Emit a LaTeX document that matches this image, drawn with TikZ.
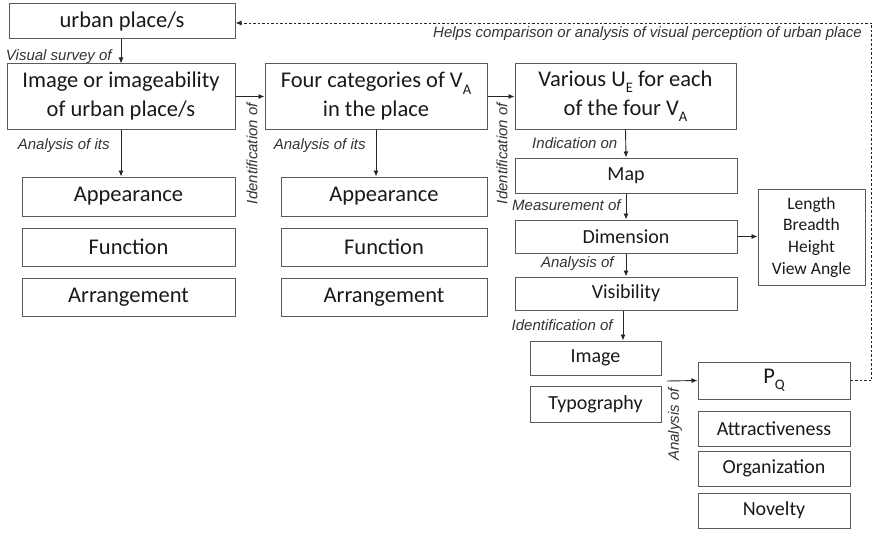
\documentclass[tikz,border=0pt]{standalone}
\usepackage{fontspec}
\setmainfont{Carlito}
\newfontfamily\lblfont{Liberation Sans}
\usetikzlibrary{arrows.meta,positioning}
\definecolor{boxline}{HTML}{5A5A5A}
\definecolor{arrowline}{HTML}{262626}
\definecolor{labeltext}{HTML}{333333}
\newcommand{\lowidx}[1]{\raisebox{-0.28em}{\fontsize{0.65em}{0.65em}\selectfont #1}}

\begin{document}
\begin{tikzpicture}[x=1pt, y=-1pt,
      box/.style={draw=boxline, line width=1pt, inner sep=0pt, align=center,
                  text=black!90, font=\fontsize{22.5}{29}\selectfont},
      sbox/.style={box, font=\fontsize{20}{24}\selectfont},
      lbl/.style={font=\lblfont\itshape\fontsize{15}{18}\selectfont,
                  text=labeltext, inner sep=0pt},
      edge/.style={-{Latex[length=6pt,width=5pt]}, line width=0.9pt, arrowline},
      fb/.style={edge, dash pattern=on 2.5pt off 2pt}
    ]
      \useasboundingbox (0,0) rectangle (874,532);

      % urban place
      \node[box, minimum width=226pt, minimum height=35pt] (up) at (122,21.5) {urban place/s};

      % top row
      \node[box, minimum width=228pt, minimum height=65pt] (img) at (121,96.5)
        {Image or imageability\\of urban place/s};
      \node[box, minimum width=222pt, minimum height=65pt] (cat) at (376,96.5)
        {Four categories of V\lowidx{A}\\in the place};
      \node[box, minimum width=221pt, minimum height=65pt] (var) at (625.5,96.5)
        {Various U\lowidx{E} for each\\of the four V\lowidx{A}};

      % first column
      \node[box, minimum width=213pt, minimum height=39pt] (app1) at (128.5,196.5) {Appearance};
      \node[box, minimum width=213pt, minimum height=38pt] (fun1) at (128.5,247) {Function};
      \node[box, minimum width=213pt, minimum height=38pt] (arr1) at (128.5,297) {Arrangement};

      % second column
      \node[box, minimum width=206pt, minimum height=39pt] (app2) at (384,196.5) {Appearance};
      \node[box, minimum width=206pt, minimum height=38pt] (fun2) at (384,247) {Function};
      \node[box, minimum width=206pt, minimum height=38pt] (arr2) at (384,297) {Arrangement};

      % third column
      \node[sbox, minimum width=222pt, minimum height=35pt] (map) at (626,175.5) {Map};
      \node[sbox, minimum width=222pt, minimum height=33pt] (dim) at (626,236.5) {Dimension};
      \node[sbox, minimum width=222pt, minimum height=33pt] (vis) at (626,293.5) {Visibility};
      \node[box, font=\fontsize{17.5}{21.7}\selectfont, minimum width=107pt,
            minimum height=96pt] (len) at (811.5,237) {Length\\Breadth\\Height\\View Angle};

      % image and typography
      \node[sbox, minimum width=131pt, minimum height=34pt] (image) at (595.5,358) {Image};
      \node[sbox, minimum width=131pt, minimum height=36pt] (typo) at (595.5,404) {Typography};

      % perceived quality
      \node[box, minimum width=152pt, minimum height=37pt] (pq) at (774,380.5) {P\lowidx{Q}};
      \node[sbox, minimum width=152pt, minimum height=35pt] (attr) at (774,428.5) {Attractiveness};
      \node[sbox, minimum width=152pt, minimum height=35pt] (org) at (774,468.5) {Organization};
      \node[sbox, minimum width=152pt, minimum height=35pt] (nov) at (774,510.5) {Novelty};

      % rotated labels
      \node[lbl, rotate=90, anchor=east] (id1) at (252,103) {Identification of};
      \node[lbl, rotate=90, anchor=east] (id2) at (502,103) {Identification of};
      \node[lbl, rotate=90, anchor=east] (an3) at (675,388) {Analysis of};
      \node[lbl, anchor=east] (helps) at (862,34) {Helps comparison or analysis of visual perception of urban place};
      \coordinate (pqin) at (667,381);

      % Edges
      \draw[edge] (up.south -| img.north) -- (img.north) node[pos=0.7, left=9pt, lbl] {Visual survey of};
      \draw[edge] (img.east) -- (cat.west);
      \draw[edge] (cat.east) -- (var.west);
      \draw[edge] (img.south) -- (img.south |- app1.north) node[pos=0.35, left=11pt, lbl] {Analysis of its};
      \draw[edge] (cat.south) -- (cat.south |- app2.north) node[pos=0.35, left=10pt, lbl] {Analysis of its};
      \draw[edge] (var.south) -- (map.north) node[midway, left=8pt, lbl] {Indication on};
      \draw[edge] (map.south) -- (dim.north) node[pos=0.45, left=5pt, lbl] {Measurement of};
      \draw[edge] (dim.south) -- (vis.north) node[pos=0.46, left=12pt, lbl] {Analysis of};
      \draw[edge] ([xshift=-3pt]vis.south) -- ([xshift=-3pt]vis.south |- image.north) node[midway, left=10pt, lbl] {Identification of};
      \draw[edge] (dim.east) -- (dim.east -| len.west);
      \draw[edge] (pqin) -- (pq.west);
      \draw[fb] (pq.east) -- ++(21,0) |- ([yshift=-1.5pt]up.east);
    \end{tikzpicture}
\end{document}
